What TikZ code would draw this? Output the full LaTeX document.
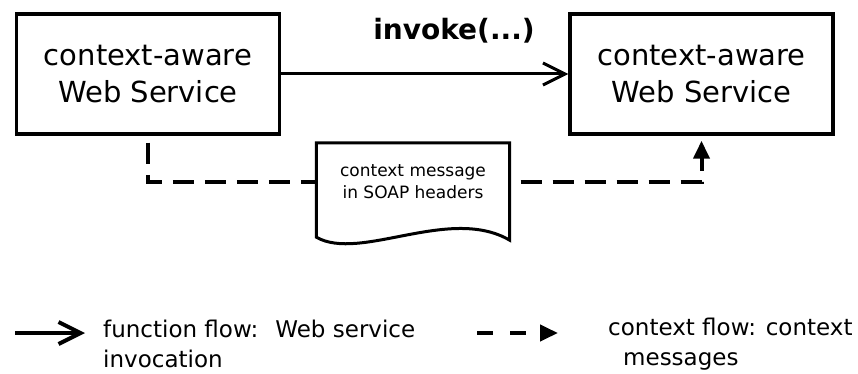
\documentclass[tikz,border=0pt]{standalone}
\usepackage{fontspec}
\setmainfont{DejaVu Sans}
\usetikzlibrary{arrows.meta,calc}

\tikzset{
  service/.style={draw, line width=3.5pt, minimum width=263pt, minimum height=120pt,
    inner sep=0pt, align=center, font=\fontsize{29}{37}\selectfont},
  callflow/.style={line width=3pt, -{Straight Barb[length=22pt,width=22pt]}},
  ctxflow/.style={line width=4pt, dash pattern=on 21pt off 11pt,
    -{Triangle[length=18pt,width=16pt]}},
  legendtext/.style={anchor=west, inner sep=0pt, align=left,
    font=\fontsize{23}{30}\selectfont}
}

\begin{document}
\begin{tikzpicture}[x=1pt,y=-1pt]
  \useasboundingbox (0,0) rectangle (858,374);

  % the two services and the call between them
  \node[service] (lws) at (148,74) {context-aware\\Web Service};
  \node[service] (rws) at (701.5,74) {context-aware\\Web Service};
  \draw[callflow] (lws.east) -- (rws.west);
  \node[font=\bfseries\fontsize{28}{32}\selectfont] (call) at (454,31) {invoke(...)};

  % SOAP header document
  \node[minimum width=193pt, minimum height=78pt, inner sep=0pt, align=center,
    font=\fontsize{17}{22}\selectfont] (msg) at (413,182) {context message\\in SOAP headers};
  \draw[line width=3pt]
    ($(msg.south west)+(0,16)$) -- (msg.north west) -- (msg.north east)
    -- ($(msg.south east)+(0,19)$)
    .. controls ($(msg.south east)+(-60,-16)$) and ($(msg.south west)+(44,41)$)
    .. ($(msg.south west)+(0,16)$) -- cycle;

  % context flow through the header
  \draw[ctxflow, -, dash phase=25pt] (lws.south) |- (msg.west);
  \draw[ctxflow, dash phase=21pt, shorten >=5pt] (msg.east) -| (rws.south);

  % legend
  \coordinate (fl0) at (15,333);
  \coordinate (fl1) at (85,333);
  \draw[callflow, line width=4pt] (fl0) -- (fl1);
  \node[legendtext] (fltext) at (103,344) {function flow:~ Web service\\invocation};

  \coordinate (cf0) at (477,333);
  \coordinate (cf1) at (558,333);
  \draw[ctxflow, dash pattern=on 16pt off 17pt] (cf0) -- (cf1);
  \node[legendtext] (cftext) at (608,344) {context flow: context\\\hspace*{15pt}messages};
\end{tikzpicture}
\end{document}
